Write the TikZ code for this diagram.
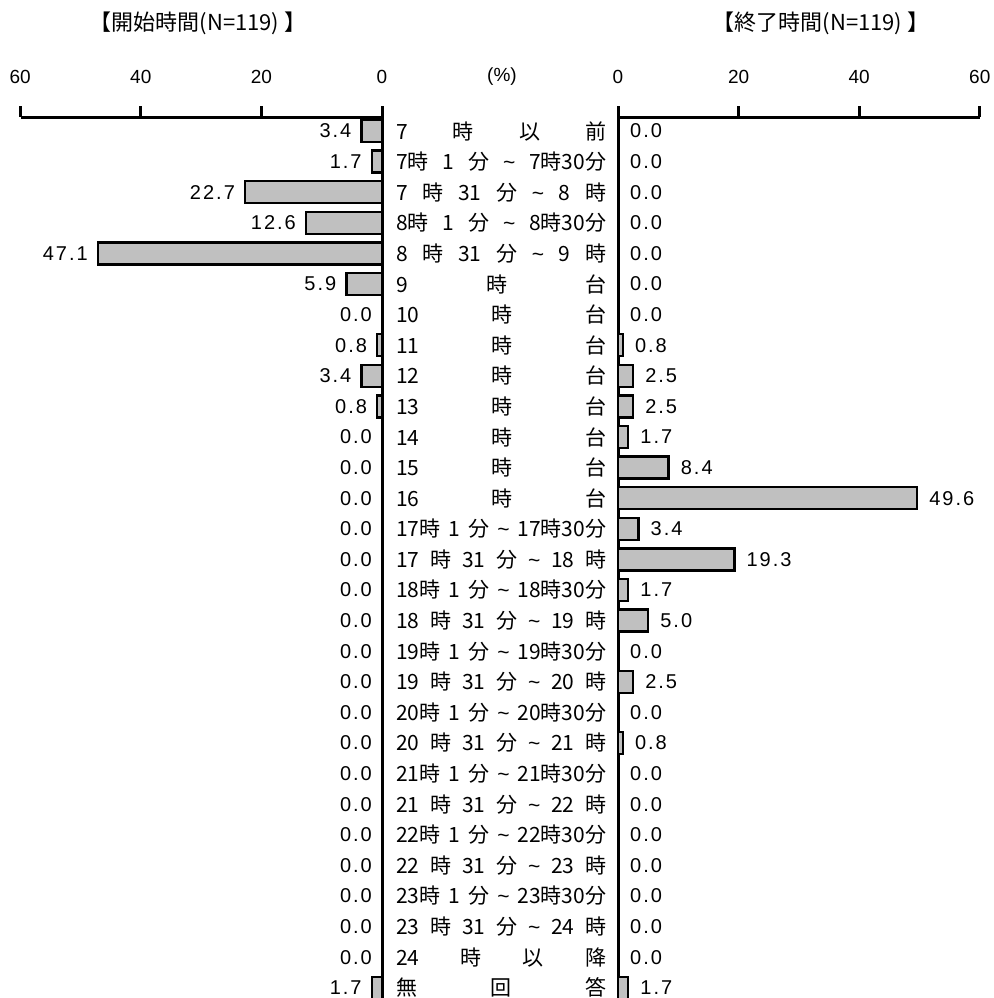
\documentclass[tikz,border=0pt]{standalone}
\usepackage{fontspec}
\setmainfont{Liberation Sans}
\newfontfamily\jp{Noto Sans CJK JP}
\newfontfamily\valfont[LetterSpace=10]{Liberation Sans}
\newcommand\wv{{\rmfamily\textasciitilde}}
\definecolor{barfill}{RGB}{192,192,192}
\begin{document}
\begin{tikzpicture}[x=1pt,y=-1pt,
  axis/.style={line width=3pt},
  bar/.style={draw,line width=2.4pt,fill=barfill},
  val/.style={font={\valfont\fontsize{20}{24}\selectfont},inner sep=0pt},
  tick/.style={font={\fontsize{19}{22}\selectfont},inner sep=0pt},
  ttl/.style={font={\jp\fontsize{22}{26}\selectfont},inner sep=0pt},
  cat/.style={font={\jp\fontsize{21}{24}\selectfont},inner sep=0pt,anchor=west}]
  \useasboundingbox (0,0) rectangle (993,998);
  % titles
  \node[ttl] (tl) at (198,23) {【開始時間(N=119) 】};
  \node[ttl] (tr) at (821,23) {【終了時間(N=119) 】};
  \node[tick] (pc) at (502,77) {(\%)};
  % axes
  \draw[axis] (21,117) -- (382,117);
  \draw[axis] (618,117) -- (980,117);
  \draw[axis] (382,106) -- (382,998);
  \draw[axis] (618,106) -- (618,998);
  \foreach \t in {20,40,60} % ticks
    \draw[axis] ({382-6.03*\t},106) -- +(0,11);
  \foreach \t in {20,40,60}
    \draw[axis] ({618+6.03*\t},106) -- +(0,11);
  \foreach \t in {0,20,40,60} % numbers on axes
    \node[tick] (al\t) at ({382-6.03*\t},77) {\t};
  \foreach \t in {0,20,40,60}
    \node[tick] (ar\t) at ({618+6.03*\t},77) {\t};
  % categories
  \node[cat] (c0) at (396,131) {\makebox[210pt][s]{7\hfill 時\hfill 以\hfill 前}};
  \node[cat] (c5) at (396,{131+30.6*5}) {\makebox[210pt][s]{9\hfill 時\hfill 台}};
  \foreach \h in {10,...,16}
    \node[cat] (c\h) at (396,{131+30.6*(\h-4)}) {\makebox[210pt][s]{\h\hfill 時\hfill 台}};
  \foreach \h/\i [evaluate=\h as \n using int(\h+1)] in {7/1,8/3,17/13,18/15,19/17,20/19,21/21,22/23,23/25} {
    \node[cat] (h\i) at (396,{131+30.6*\i}) {\makebox[210pt][s]{\h 時\hfill 1\hfill 分\hfill \wv\hfill \h 時30分}};
    \node[cat] (m\i) at (396,{131+30.6*(\i+1)}) {\makebox[210pt][s]{\h\hfill 時\hfill 31\hfill 分\hfill \wv\hfill \n\hfill 時}};
  }
  \node[cat] (c27) at (396,{131+30.6*27}) {\makebox[210pt][s]{24\hfill 時\hfill 以\hfill 降}};
  \node[cat] (c28) at (396,{131+30.6*28}) {\makebox[210pt][s]{無\hfill 回\hfill 答}};
  % bars and values
  \foreach \i/\l/\r in {0/3.4/0.0,1/1.7/0.0,2/22.7/0.0,3/12.6/0.0,4/47.1/0.0,5/5.9/0.0,
      6/0.0/0.0,7/0.8/0.8,8/3.4/2.5,9/0.8/2.5,10/0.0/1.7,11/0.0/8.4,12/0.0/49.6,
      13/0.0/3.4,14/0.0/19.3,15/0.0/1.7,16/0.0/5.0,17/0.0/0.0,18/0.0/2.5,19/0.0/0.0,
      20/0.0/0.8,21/0.0/0.0,22/0.0/0.0,23/0.0/0.0,24/0.0/0.0,25/0.0/0.0,26/0.0/0.0,
      27/0.0/0.0,28/1.7/1.7} {
    \ifdim\l pt>0pt
      \draw[bar] ({382-6.03*\l},{120+30.6*\i}) rectangle (382,{142+30.6*\i});
    \fi
    \ifdim\r pt>0pt
      \draw[bar] (618,{120+30.6*\i}) rectangle ({618+6.03*\r},{142+30.6*\i});
    \fi
    \node[val,anchor=east] (l\i) at ({382-6.03*\l-10},{131+30.6*\i}) {\l};
    \node[val,anchor=west] (r\i) at ({618+6.03*\r+12},{131+30.6*\i}) {\r};
  }
\end{tikzpicture}
\end{document}
